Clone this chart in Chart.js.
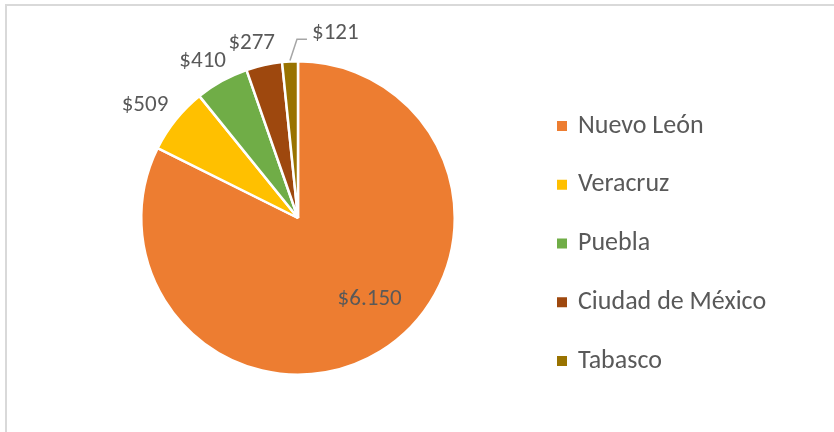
<!DOCTYPE html>
<html>
<head>
<meta charset="utf-8">
<script src="https://cdn.jsdelivr.net/npm/chart.js@4.4.0/dist/chart.umd.min.js"></script>
<style>
  body { margin: 0; background: #fff; }
  canvas { display: block; }
</style>
</head>
<body>
<canvas id="mycanvas" width="834" height="432"></canvas>
<script>
var estados = ["Nuevo León", "Veracruz", "Puebla", "Ciudad de México", "Tabasco"];
var montos = [6150, 509, 410, 277, 121];
var etiquetas = ["$6.150", "$509", "$410", "$277", "$121"];
var colores = ["#ED7D31", "#FFC000", "#70AD47", "#9E480E", "#997300"];

var FUENTE = "Calibri, Carlito, Lato, sans-serif";
var GRIS = "#595959";

// marco gris claro del grafico
var marco = {
  id: "marco",
  beforeDraw: function(chart) {
    var ctx = chart.ctx;
    ctx.save();
    ctx.strokeStyle = "#d9d9d9";
    ctx.lineWidth = 2;
    ctx.beginPath();
    ctx.moveTo(6, 432);
    ctx.lineTo(6, 5);
    ctx.lineTo(834, 5);
    ctx.stroke();
    ctx.restore();
  }
};

// etiquetas de datos estilo excel
var etiquetasDatos = {
  id: "etiquetasDatos",
  afterDatasetsDraw: function(chart) {
    var ctx = chart.ctx;
    var meta = chart.getDatasetMeta(0);
    var total = montos.reduce(function(a, b) { return a + b; }, 0);
    ctx.save();
    ctx.font = "23px " + FUENTE;
    ctx.fillStyle = GRIS;
    ctx.textBaseline = "middle";
    meta.data.forEach(function(arc, i) {
      var p = arc.getProps(["x", "y", "startAngle", "endAngle", "outerRadius"], true);
      var mid = (p.startAngle + p.endAngle) / 2;
      var r = p.outerRadius;
      var txt = etiquetas[i];
      var w = ctx.measureText(txt).width / 2 + 2;
      if (montos[i] / total > 0.5) {
        var a = mid - 0.17;
        ctx.textAlign = "center";
        ctx.fillText(txt, p.x + Math.cos(a) * r * 0.69, p.y + Math.sin(a) * r * 0.69);
      } else if (i === montos.length - 1) {
        // linea guia para la rebanada mas chica
        var sx = p.x + Math.cos(mid) * (r + 1);
        var sy = p.y + Math.sin(mid) * (r + 1);
        var ex = sx + 7, ey = p.y - r - 22;
        ctx.strokeStyle = "#a6a6a6";
        ctx.lineWidth = 1.5;
        ctx.beginPath();
        ctx.moveTo(sx, sy);
        ctx.lineTo(ex, ey);
        ctx.lineTo(ex + 10, ey);
        ctx.stroke();
        ctx.textAlign = "left";
        ctx.fillText(txt, ex + 15, ey - 6);
      } else {
        var a2 = mid - 0.04;
        var c = Math.abs(Math.cos(a2)), s = Math.abs(Math.sin(a2));
        var d = Math.min(c > 0.01 ? w / c : 1e9, s > 0.01 ? 14 / s : 1e9);
        var dist = r + 10 + d;
        ctx.textAlign = "center";
        ctx.fillText(txt, p.x + Math.cos(a2) * dist, p.y + Math.sin(a2) * dist);
      }
    });
    ctx.restore();
  }
};

// leyenda a la derecha
var leyenda = {
  id: "leyenda",
  afterDraw: function(chart) {
    var ctx = chart.ctx;
    ctx.save();
    ctx.font = "26px " + FUENTE;
    ctx.textBaseline = "middle";
    ctx.textAlign = "left";
    estados.forEach(function(nombre, i) {
      var y = 126 + i * 58.75;
      ctx.fillStyle = colores[i];
      ctx.fillRect(557, y - 5, 10, 10);
      ctx.fillStyle = GRIS;
      ctx.fillText(nombre, 578, y);
    });
    ctx.restore();
  }
};

var ctx = document.getElementById("mycanvas");

var grafica = new Chart(ctx, {
  type: "pie",
  data: {
    labels: estados,
    datasets: [{
      data: montos,
      backgroundColor: colores,
      borderColor: "#ffffff",
      borderWidth: 2.5
    }]
  },
  options: {
    responsive: false,
    animation: false,
    layout: { padding: { left: 140, right: 378, top: 60, bottom: 56 } },
    plugins: {
      legend: { display: false },
      tooltip: { enabled: false }
    }
  },
  plugins: [marco, etiquetasDatos, leyenda]
});
</script>
</body>
</html>
